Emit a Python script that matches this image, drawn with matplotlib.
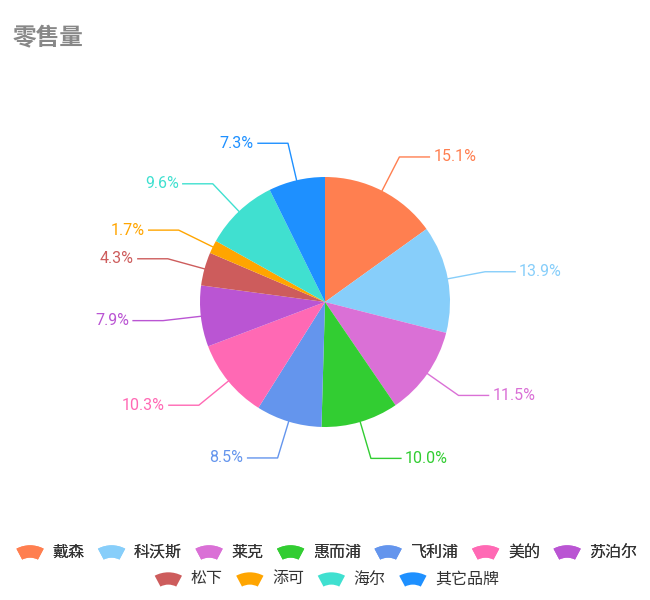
import numpy as np
import matplotlib
matplotlib.use("Agg")
import matplotlib.pyplot as plt
from matplotlib.patches import Wedge
from matplotlib.legend_handler import HandlerPatch

plt.rcParams['font.family'] = ['Noto Sans CJK SC', 'DejaVu Sans']

brands = ["戴森", "科沃斯", "莱克", "惠而浦", "飞利浦", "美的", "苏泊尔", "松下", "添可", "海尔", "其它品牌"]
shares = [15.1, 13.9, 11.5, 10.0, 8.5, 10.3, 7.9, 4.3, 1.7, 9.6, 7.3]
colors = ["#FF7F50", "#87CEFA", "#DA70D6", "#32CD32", "#6495ED", "#FF69B4",
          "#BA55D3", "#CD5C5C", "#FFA500", "#40E0D0", "#1E90FF"]

fig = plt.figure(figsize=(6.5, 6), dpi=100)
ax = fig.add_axes([0, 0, 1, 1])

cx, cy, R = 325, 298, 125
wedges, _ = ax.pie(shares, colors=colors, startangle=90, counterclock=False,
                   center=(cx, cy), radius=R, frame=True,
                   wedgeprops=dict(linewidth=0))
ax.set_xlim(0, 650)
ax.set_ylim(0, 600)
ax.set_aspect("equal")
ax.axis("off")

for w, s, c in zip(wedges, shares, colors):
    ang = np.deg2rad((w.theta1 + w.theta2) / 2)
    x0, y0 = cx + R * np.cos(ang), cy + R * np.sin(ang)
    x1, y1 = cx + (R + 38) * np.cos(ang), cy + (R + 38) * np.sin(ang)
    d = 1 if np.cos(ang) >= 0 else -1
    x2 = x1 + d * 30
    ax.plot([x0, x1, x2], [y0, y1, y1], color=c, lw=1)
    ax.text(x2 + d * 4, y1, f"{s}%", color=c, fontsize=11.5,
            ha="left" if d > 0 else "right", va="center", family=["Roboto", "DejaVu Sans"])

fig.text(0.02, 0.925, "零售量", fontsize=17, fontweight="bold", color="#888888")


class FanHandler(HandlerPatch):
    def create_artists(self, legend, orig, xd, yd, width, height, fontsize, trans):
        p = Wedge((width / 2 - xd, -yd - height * 1.6), height * 2.6, 62, 118,
                  width=height * 1.1, facecolor=orig.get_facecolor(), lw=0)
        p.set_transform(trans)
        return [p]


handles = [Wedge((0, 0), 1, 0, 90, facecolor=c) for c in colors]
kw = dict(frameon=False, fontsize=11.5, handlelength=2.2, handletextpad=0.3,
          columnspacing=0.6, labelcolor="#333333", handler_map={Wedge: FanHandler()})
leg1 = fig.legend(handles[:7], brands[:7], ncol=7, loc="center",
                  bbox_to_anchor=(0.5, 0.08), **kw)
fig.add_artist(leg1)
fig.legend(handles[7:], brands[7:], ncol=4, loc="center",
           bbox_to_anchor=(0.5, 0.035), **kw)

fig.savefig("out.png", dpi=100)
